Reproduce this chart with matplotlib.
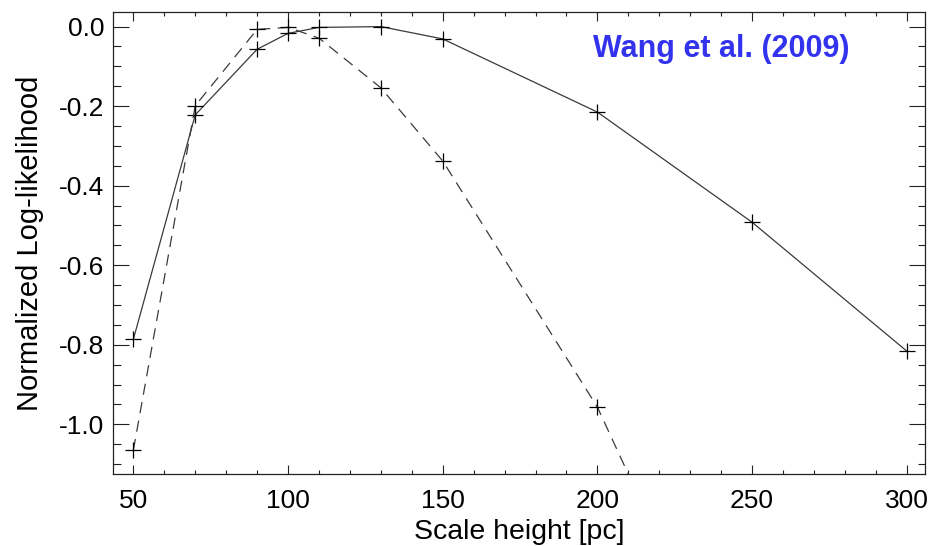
import matplotlib.pyplot as plt
from matplotlib.ticker import MultipleLocator
from matplotlib import font_manager

# scale heights [pc] and normalized log-likelihoods
h_solid = [50, 70, 90, 100, 110, 130, 150, 200, 250, 300]
ll_solid = [-0.786, -0.222, -0.057, -0.017, -0.002, 0.0, -0.031, -0.215, -0.492, -0.816]

h_dashed = [50, 70, 90, 100, 110, 130, 150, 200, 250]
ll_dashed = [-1.065, -0.199, -0.007, -0.002, -0.029, -0.154, -0.338, -0.957, -1.80]

x_ticks = [50, 100, 150, 200, 250, 300]
y_ticks = [0.0, -0.2, -0.4, -0.6, -0.8, -1.0]

names = {f.name for f in font_manager.fontManager.ttflist}
base_font = "Liberation Sans" if "Liberation Sans" in names else "DejaVu Sans"
if "Liberation Sans Narrow" in names:
    title_font, title_size = "Liberation Sans Narrow", 26
else:
    title_font, title_size = base_font, 22
plt.rcParams["font.family"] = [base_font, "DejaVu Sans"]

fig = plt.figure(figsize=(9.33, 5.46), dpi=100)
ax = fig.add_axes([0.1214, 0.1319, 0.8704, 0.8456])

line_col = "#3a3a3a"
ax.plot(h_solid, ll_solid, color=line_col, lw=0.9, marker="+", ms=12,
        mew=0.9, mec="black")
ax.plot(h_dashed, ll_dashed, color=line_col, lw=0.9, dashes=(9, 6),
        marker="+", ms=12, mew=0.9, mec="black")

ax.set_xlim(43.5, 306.0)
ax.set_ylim(-1.125, 0.036)
ax.set_xticks(x_ticks)
ax.set_yticks(y_ticks)
ax.set_yticklabels([f"{v:.1f}" for v in y_ticks])
ax.xaxis.set_minor_locator(MultipleLocator(10))
ax.yaxis.set_minor_locator(MultipleLocator(0.05))

ax.tick_params(axis="both", which="both", direction="in", top=True, right=True,
               width=0.8, color="#222222", labelsize=19)
ax.tick_params(axis="x", which="major", length=6.5, pad=11)
ax.tick_params(axis="x", which="minor", length=3.2)
ax.tick_params(axis="y", which="major", length=11.5, pad=6.5)
ax.tick_params(axis="y", which="minor", length=5.4)
for s in ax.spines.values():
    s.set_linewidth(0.9)
    s.set_color("#222222")

ax.set_xlabel("Scale height [pc]", fontsize=20.5, labelpad=4)
ax.set_ylabel("Normalized Log-likelihood", fontsize=21, labelpad=11)

ax.text(0.591, 0.903, "Wang et al. (2009)", transform=ax.transAxes,
        color="#3333ee", fontsize=title_size, fontweight="bold",
        family=[title_font, "DejaVu Sans"], ha="left", va="baseline")

fig.savefig("out.png", dpi=100)
